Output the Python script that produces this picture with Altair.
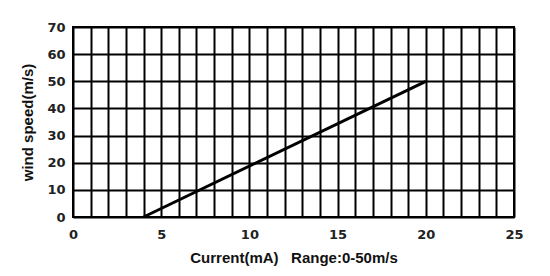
import altair as alt
import pandas as pd

current = [4, 20]
speed = [0, 50]
x_ticks = list(range(0, 26))
y_ticks = [0, 10, 20, 30, 40, 50, 60, 70]

df = pd.DataFrame({"current": current, "speed": speed})

chart = alt.Chart(df).mark_line(color="black", strokeWidth=3).encode(
    x=alt.X("current:Q", scale=alt.Scale(domain=[0, 25], nice=False),
            axis=alt.Axis(values=x_ticks, grid=True, gridColor="black", gridWidth=2, gridOpacity=1,
                          ticks=False, domain=False, labelFlush=False,
                          labelExpr="datum.value % 5 == 0 ? datum.label : ''",
                          labelFont="DejaVu Sans", labelFontWeight="bold", labelFontSize=13,
                          labelColor="#222", labelPadding=11,
                          title="Current(mA)\u00a0\u00a0\u00a0Range:0-50m/s", titleFont="Liberation Sans",
                          titleFontSize=15, titleFontWeight="bold", titleColor="#111", titlePadding=9)),
    y=alt.Y("speed:Q", scale=alt.Scale(domain=[0, 70], nice=False),
            axis=alt.Axis(values=y_ticks, grid=True, gridColor="black", gridWidth=2, gridOpacity=1,
                          ticks=False, domain=False, labelFlush=False,
                          labelFont="DejaVu Sans", labelFontWeight="bold", labelFontSize=13,
                          labelColor="#222", labelPadding=8,
                          title="wind speed(m/s)", titleFont="Liberation Sans",
                          titleFontSize=15, titleFontWeight="bold", titleColor="#111", titlePadding=11)),
).properties(
    width=441, height=190,
    autosize=alt.AutoSizeParams(type="none"),
    padding={"left": 73, "top": 27, "right": 36, "bottom": 59},
).configure_view(stroke="black", strokeWidth=2)

chart.save("out.html", embed_options={"renderer": "svg", "actions": False})
